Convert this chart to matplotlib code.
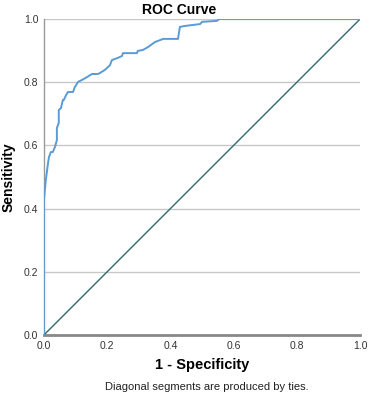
import matplotlib
matplotlib.use("Agg")
import matplotlib.pyplot as plt

# ROC curve points (1 - specificity, sensitivity)
fpr = [0.0, 0.0, 0.006, 0.013, 0.016, 0.022, 0.028, 0.035, 0.041, 0.041,
       0.047, 0.047, 0.054, 0.060, 0.063, 0.070, 0.076, 0.092, 0.098, 0.108,
       0.120, 0.136, 0.152, 0.171, 0.177, 0.193, 0.209, 0.215, 0.234, 0.247,
       0.250, 0.294, 0.297, 0.313, 0.329, 0.351, 0.377, 0.424, 0.430, 0.446,
       0.494, 0.500, 0.547, 0.554, 1.0]
tpr = [0.0, 0.427, 0.490, 0.544, 0.563, 0.579, 0.579, 0.595, 0.617, 0.655,
       0.671, 0.712, 0.718, 0.744, 0.744, 0.759, 0.769, 0.769, 0.785, 0.801,
       0.807, 0.816, 0.826, 0.826, 0.829, 0.839, 0.854, 0.870, 0.877, 0.883,
       0.892, 0.892, 0.899, 0.902, 0.911, 0.927, 0.937, 0.937, 0.975, 0.978,
       0.984, 0.991, 0.994, 1.0, 1.0]
ref_line = [0.0, 1.0]
ticks = [0.0, 0.2, 0.4, 0.6, 0.8, 1.0]

plt.rcParams["font.family"] = ["Liberation Sans", "DejaVu Sans"]

fig = plt.figure(figsize=(3.69, 4.0), dpi=100)
ax = fig.add_axes([0.119, 0.1625, 0.857, 0.79])

# reference diagonal and ROC curve
ax.plot(ref_line, ref_line, color="#2e6b6e", lw=1.0, zorder=3)
ax.plot(fpr, tpr, color="#5b9bd5", lw=1.4, zorder=4)

ax.set_xlim(0, 1)
ax.set_ylim(0, 1)
ax.set_xticks(ticks)
ax.set_yticks(ticks)
ax.set_xticklabels([f"{t:.1f}" for t in ticks])
ax.set_yticklabels([f"{t:.1f}" for t in ticks])
ax.tick_params(length=0, labelsize=7.5, colors="#333333", pad=4)

ax.yaxis.grid(True, color="#c8c8c8", lw=1.0)
ax.set_axisbelow(True)
for side in ["top", "right"]:
    ax.spines[side].set_visible(False)
ax.spines["left"].set_color("#999999")
ax.spines["left"].set_linewidth(1.0)
ax.spines["bottom"].set_color("#888888")
ax.spines["bottom"].set_linewidth(2.0)

fig.text(0.485, 0.975, "ROC Curve", ha="center", va="center",
         fontsize=10, fontweight="bold")
ax.set_xlabel("1 - Specificity", fontsize=10.5, fontweight="bold", labelpad=5)
ax.set_ylabel("Sensitivity", fontsize=10, fontweight="bold", labelpad=6)

fig.text(0.56, 0.032, "Diagonal segments are produced by ties.",
         ha="center", va="center", fontsize=8, color="#222222")

fig.savefig("out.png", dpi=100)
